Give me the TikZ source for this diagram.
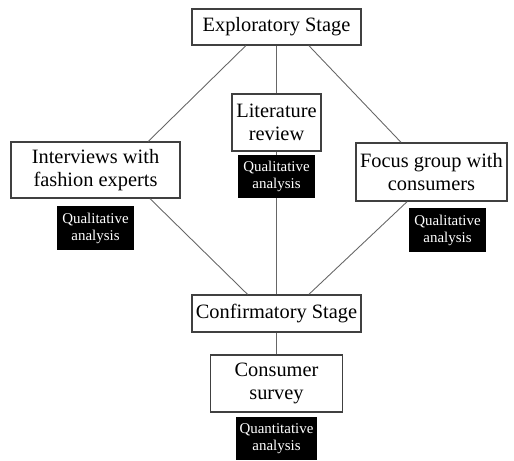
\documentclass[tikz,border=0pt]{standalone}
\usepackage{fontspec}
\setmainfont{Liberation Serif}
\usetikzlibrary{calc}

\begin{document}
\begin{tikzpicture}[
font=\fontsize{11.6}{12.8}\selectfont,
stage/.style={rectangle,draw=black!75,fill=white,line width=0.7pt,inner sep=2pt,align=center},
method/.style={stage,minimum height=1.14cm},
analysis/.style={rectangle,fill=black,text=white,inner sep=1pt,align=center,font=\fontsize{8.5}{9.6}\selectfont,minimum height=0.87cm},
connector/.style={draw=black!60,line width=0.5pt}
]

\useasboundingbox (0,0) rectangle (10.28,9.2);

% Draw stages
\node [stage,minimum width=3.38cm,minimum height=0.72cm] (explo) at (5.53,8.66) {Exploratory Stage};
\node [stage,minimum width=3.38cm,minimum height=0.74cm] (confirm) at (5.53,2.93) {Confirmatory Stage};

% Draw methods
\node [method,minimum width=3.38cm,minimum height=1.12cm] (inter) at (1.91,5.80) {Interviews with\\fashion experts};
\node [method,minimum width=1.78cm] (lit) at (5.53,6.75) {Literature\\review};
\node [method,minimum width=3.02cm,minimum height=1.16cm] (focus) at (8.63,5.76) {Focus group with\\consumers};
\node [method,minimum width=2.64cm] (survey) at (5.53,1.53) {Consumer\\survey};

% Draw analysis labels
\node [analysis,minimum width=1.54cm] (interq) at (1.91,4.64) {Qualitative\\analysis};
\node [analysis,minimum width=1.54cm,minimum height=0.86cm] (litq) at (5.53,5.67) {Qualitative\\analysis};
\node [analysis,minimum width=1.54cm] (focusq) at (8.95,4.60) {Qualitative\\analysis};
\node [analysis,minimum width=1.62cm,minimum height=0.86cm] (quant) at (5.53,0.43) {Quantitative\\analysis};

% Draw connectors: Exploratory Stage to methods
\draw [connector] ($(explo.south west)!0.32!(explo.south east)$) to ($(inter.north west)!0.81!(inter.north east)$);
\draw [connector] (explo.south) to (lit.north);
\draw [connector] ($(explo.south west)!0.69!(explo.south east)$) to ($(focus.north west)!0.30!(focus.north east)$);

% Draw connectors: methods to Confirmatory Stage
\draw [connector] ($(inter.south west)!0.82!(inter.south east)$) to ($(confirm.north west)!0.33!(confirm.north east)$);
\draw [connector] (lit.south) to (litq.north);
\draw [connector] (litq.south) to (confirm.north);
\draw [connector] ($(focus.south west)!0.34!(focus.south east)$) to ($(confirm.north west)!0.69!(confirm.north east)$);

% Draw connector: Confirmatory Stage to survey
\draw [connector] (confirm.south) to (survey.north);

\end{tikzpicture}
\end{document}
